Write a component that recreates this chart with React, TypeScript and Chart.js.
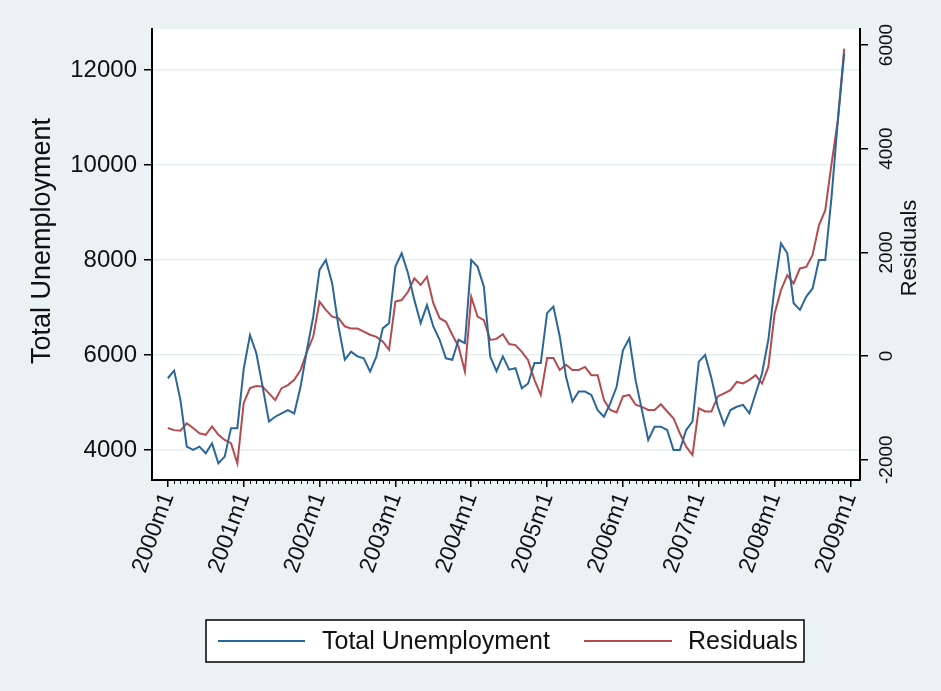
import React, { useEffect, useRef } from "react";
import { Chart, registerables } from "chart.js";

Chart.register(...registerables);

// Months since 2000m1 (0 = 2000m1 ... 107 = 2008m12)
const months: number[] = Array.from({ length: 108 }, (_, i) => i);

const totalUnemployment: number[] = [
  5510, 5670, 5050, 4070, 4000, 4070, 3930, 4140, 3720, 3860, 4460, 4460,
  5700, 6420, 6040, 5330, 4600, 4700, 4770, 4840, 4770, 5330, 6100, 6800,
  7790, 8000, 7510, 6600, 5900, 6070, 5970, 5930, 5650, 5970, 6560, 6670,
  7860, 8140, 7720, 7160, 6670, 7050, 6600, 6320, 5930, 5900, 6320, 6250,
  8000, 7860, 7440, 5970, 5660, 5970, 5690, 5720, 5300, 5400, 5830, 5830,
  6880, 7020, 6390, 5540, 5020, 5230, 5230, 5160, 4840, 4700, 4980, 5330,
  6100, 6350, 5470, 4840, 4210, 4490, 4490, 4420, 4000, 4000, 4420, 4600,
  5860, 6000, 5510, 4910, 4530, 4840, 4910, 4950, 4770, 5190, 5610, 6320,
  7440, 8350, 8140, 7090, 6950, 7230, 7400, 8000, 8000, 9330, 10950, 12350,
];

const residuals: number[] = [
  -1390, -1430, -1440, -1300, -1390, -1490, -1520, -1360, -1520, -1620, -1680, -2070,
  -910, -620, -580, -590, -720, -850, -620, -560, -460, -270, 80, 370,
  1050, 890, 760, 730, 570, 530, 530, 470, 410, 370, 280, 120,
  1050, 1080, 1240, 1500, 1370, 1530, 1020, 730, 660, 410, 180, -300,
  1140, 760, 690, 310, 330, 420, 230, 210, 80, -80, -460, -750,
  -40, -40, -270, -170, -270, -270, -210, -370, -370, -850, -1040, -1090,
  -780, -750, -940, -980, -1040, -1040, -930, -1070, -1200, -1490, -1750, -1910,
  -1010, -1070, -1070, -780, -720, -660, -500, -530, -460, -370, -530, -210,
  820, 1270, 1560, 1400, 1690, 1720, 1950, 2520, 2810, 3710, 4550, 5930,
];

const xTickMonths: number[] = [0, 12, 24, 36, 48, 60, 72, 84, 96, 108];
const xTickLabels: string[] = [
  "2000m1", "2001m1", "2002m1", "2003m1", "2004m1",
  "2005m1", "2006m1", "2007m1", "2008m1", "2009m1",
];
const leftTicks: number[] = [4000, 6000, 8000, 10000, 12000];
const rightTicks: number[] = [-2000, 0, 2000, 4000, 6000];

const seriesNames: string[] = ["Total Unemployment", "Residuals"];
const seriesColors: string[] = ["#2b6699", "#b54a4f"];

const FONT = "'Liberation Sans', Arial, sans-serif";
const BG = "#eaf2f3";

const stataPlugin = {
  id: "stataDecor",
  beforeDraw(chart: any) {
    const ctx = chart.ctx;
    const a = chart.chartArea;
    ctx.save();
    ctx.fillStyle = BG;
    ctx.fillRect(0, 0, chart.width, chart.height);
    ctx.fillStyle = "#ffffff";
    ctx.fillRect(a.left, a.top, a.right - a.left, a.bottom - a.top);
    ctx.restore();
  },
  afterDraw(chart: any) {
    const ctx = chart.ctx;
    const a = chart.chartArea;
    const xs = chart.scales.x;
    const y1 = chart.scales.y1;
    ctx.save();
    // minor monthly ticks
    ctx.strokeStyle = "#000";
    ctx.lineWidth = 1;
    for (let m = 0; m <= 108; m++) {
      if (m % 12 === 0) continue;
      const px = Math.round(xs.getPixelForValue(m)) + 0.5;
      ctx.beginPath();
      ctx.moveTo(px, a.bottom);
      ctx.lineTo(px, a.bottom + 4);
      ctx.stroke();
    }
    // right axis labels, rotated
    ctx.fillStyle = "#111";
    ctx.font = `19px ${FONT}`;
    ctx.textAlign = "center";
    ctx.textBaseline = "middle";
    rightTicks.forEach((v) => {
      const py = y1.getPixelForValue(v);
      ctx.save();
      ctx.translate(887, py);
      ctx.rotate(-Math.PI / 2);
      ctx.fillText(String(v), 0, 0);
      ctx.restore();
    });
    // right title
    ctx.font = `22px ${FONT}`;
    ctx.save();
    ctx.translate(910, 248);
    ctx.rotate(-Math.PI / 2);
    ctx.fillText(seriesNames[1], 0, 0);
    ctx.restore();
    // left title
    ctx.font = `27px ${FONT}`;
    ctx.save();
    ctx.translate(43, 241);
    ctx.rotate(-Math.PI / 2);
    ctx.fillText(seriesNames[0], 0, 0);
    ctx.restore();

    // legend
    const lx = 206, ly = 620, lw = 598, lh = 42;
    ctx.fillStyle = "#fff";
    ctx.fillRect(lx, ly, lw, lh);
    ctx.strokeStyle = "#000";
    ctx.lineWidth = 1.5;
    ctx.strokeRect(lx, ly, lw, lh);
    const cy = ly + lh / 2;
    const items = [
      { x0: 218, x1: 305, tx: 322 },
      { x0: 584, x1: 672, tx: 688 },
    ];
    ctx.font = `25px ${FONT}`;
    ctx.textAlign = "left";
    ctx.textBaseline = "middle";
    items.forEach((it, k) => {
      ctx.strokeStyle = seriesColors[k];
      ctx.lineWidth = 2;
      ctx.beginPath();
      ctx.moveTo(it.x0, cy);
      ctx.lineTo(it.x1, cy);
      ctx.stroke();
      ctx.fillStyle = "#111";
      ctx.fillText(seriesNames[k], it.tx, cy + 1);
    });
    ctx.restore();
  },
};

export default function App() {
  const ref = useRef<HTMLCanvasElement | null>(null);

  useEffect(() => {
    if (!ref.current) return;
    const chart = new Chart(ref.current, {
      type: "line",
      data: {
        datasets: [
          {
            label: seriesNames[0],
            data: months.map((m, i) => ({ x: m, y: totalUnemployment[i] })),
            borderColor: seriesColors[0],
            borderWidth: 2,
            pointRadius: 0,
            tension: 0,
            yAxisID: "y",
          },
          {
            label: seriesNames[1],
            data: months.map((m, i) => ({ x: m, y: residuals[i] })),
            borderColor: seriesColors[1],
            borderWidth: 2,
            pointRadius: 0,
            tension: 0,
            yAxisID: "y1",
          },
        ],
      },
      options: {
        animation: false,
        responsive: false,
        devicePixelRatio: 1,
        layout: { padding: { top: 29, left: 0, right: 0, bottom: 0 } },
        plugins: {
          legend: { display: false },
          tooltip: { enabled: false },
        },
        scales: {
          x: {
            type: "linear",
            min: -2.5,
            max: 109.5,
            afterBuildTicks: (s: any) => {
              s.ticks = xTickMonths.map((v) => ({ value: v }));
            },
            afterFit: (s: any) => {
              s.height = 211;
            },
            grid: {
              drawOnChartArea: false,
              drawTicks: true,
              tickLength: 7,
              color: "#000",
              lineWidth: 1.5,
            },
            border: { display: true, color: "#000", width: 2 },
            ticks: {
              autoSkip: false,
              minRotation: 70,
              maxRotation: 70,
              padding: 2,
              color: "#111",
              font: { family: FONT, size: 23 },
              callback: (v: any) => {
                const k = xTickMonths.indexOf(Number(v));
                return k >= 0 ? xTickLabels[k] : "";
              },
            },
          },
          y: {
            type: "linear",
            position: "left",
            min: 3368,
            max: 12863,
            afterBuildTicks: (s: any) => {
              s.ticks = leftTicks.map((v) => ({ value: v }));
            },
            afterFit: (s: any) => {
              s.width = 152;
            },
            grid: {
              drawOnChartArea: true,
              color: "#e4eeef",
              lineWidth: 1.5,
              tickColor: "#000",
              tickWidth: 1.5,
              tickLength: 8,
            },
            border: { display: true, color: "#000", width: 2 },
            ticks: {
              padding: 7,
              color: "#111",
              font: { family: FONT, size: 24 },
              callback: (v: any) => String(v),
            },
          },
          y1: {
            type: "linear",
            position: "right",
            min: -2392,
            max: 6309,
            afterBuildTicks: (s: any) => {
              s.ticks = rightTicks.map((v) => ({ value: v }));
            },
            afterFit: (s: any) => {
              s.width = 81;
            },
            grid: {
              drawOnChartArea: false,
              color: "#000",
              lineWidth: 1.5,
              tickLength: 8,
            },
            border: { display: true, color: "#000", width: 2 },
            ticks: {
              color: "rgba(0,0,0,0)",
              font: { family: FONT, size: 19 },
              callback: (v: any) => String(v),
            },
          },
        },
      },
      plugins: [stataPlugin],
    } as any);
    return () => chart.destroy();
  }, []);

  return (
    <div style={{ position: "fixed", left: 0, top: 0, width: 941, height: 691 }}>
      <canvas ref={ref} width={941} height={691} style={{ display: "block" }} />
    </div>
  );
}
